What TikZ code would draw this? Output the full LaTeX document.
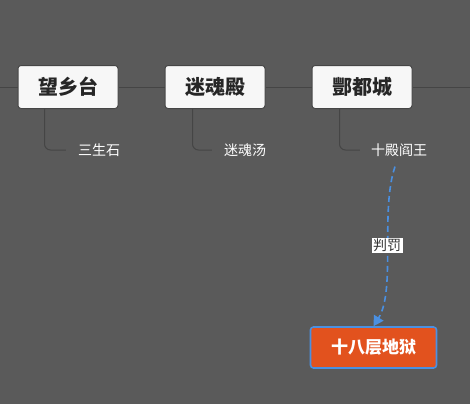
\documentclass[tikz,border=0pt]{standalone}
\usepackage{fontspec}
\setmainfont{Noto Sans CJK SC}
\usetikzlibrary{arrows.meta}

\definecolor{bgcol}{HTML}{5A5A5A}
\definecolor{linecol}{HTML}{454545}
\definecolor{boxcol}{HTML}{F7F7F7}
\definecolor{hellred}{HTML}{E2521E}
\definecolor{linkblue}{HTML}{4A90E2}

\tikzset{
  topic/.style={draw=linecol, fill=boxcol, rounded corners=3pt, line width=1pt,
    minimum width=100pt, minimum height=43pt, font=\bfseries\fontsize{20}{24}\selectfont, text=black!85},
  sub/.style={text=white, font=\fontsize{14}{16}\selectfont, inner sep=1pt},
  branch/.style={draw=linecol, line width=1pt, rounded corners=6pt}
}

\begin{document}
\begin{tikzpicture}[x=1pt, y=-1pt]
\fill[bgcol] (0,0) rectangle (470,404);
\useasboundingbox (0,0) rectangle (470,404);

\coordinate (left) at (0,87);
\coordinate (right) at (470,87);

\begin{scope}
  \node[topic] (wangxiang) at (68,87) {望乡台};
  \node[topic] (mihun) at (215,87) {迷魂殿};
  \node[topic] (fengdu) at (362,87) {酆都城};

  \node[sub] (sansheng) at (99,150) {三生石};
  \node[sub] (mihuntang) at (245,150) {迷魂汤};
  \node[sub] (yanwang) at (399,150) {十殿阎王};

  \node[topic, draw=linkblue, line width=1.6pt, fill=hellred, text=white, minimum width=126pt, minimum height=41pt,
    font=\bfseries\fontsize{17}{20}\selectfont] (diyu) at (373.5,347.5) {十八层地狱};

  \path[draw=linecol, line width=1pt] (left) -- (wangxiang.west);
  \path[draw=linecol, line width=1pt] (wangxiang.east) -- (mihun.west);
  \path[draw=linecol, line width=1pt] (mihun.east) -- (fengdu.west);
  \path[draw=linecol, line width=1pt] (fengdu.east) -- (right);

  \draw[branch] ([xshift=27pt]wangxiang.south west) |- ([xshift=-11pt]sansheng.west);
  \draw[branch] ([xshift=28pt]mihun.south west) |- ([xshift=-11pt]mihuntang.west);
  \draw[branch] ([xshift=28pt]fengdu.south west) |- ([xshift=-10pt]yanwang.west);
\end{scope}

% link
\draw[linkblue, line width=1.6pt, dash pattern=on 6pt off 4pt, -{Triangle[width=11pt,length=10pt]}]
  ([xshift=-4pt,yshift=-9pt]yanwang.south) .. controls (380,210) and (396,290) .. (diyu.north)
  node[pos=0.48, fill=white, text=black!80, inner sep=1.5pt, font=\fontsize{14}{16}\selectfont] (panfa) {判罚};
\end{tikzpicture}
\end{document}
